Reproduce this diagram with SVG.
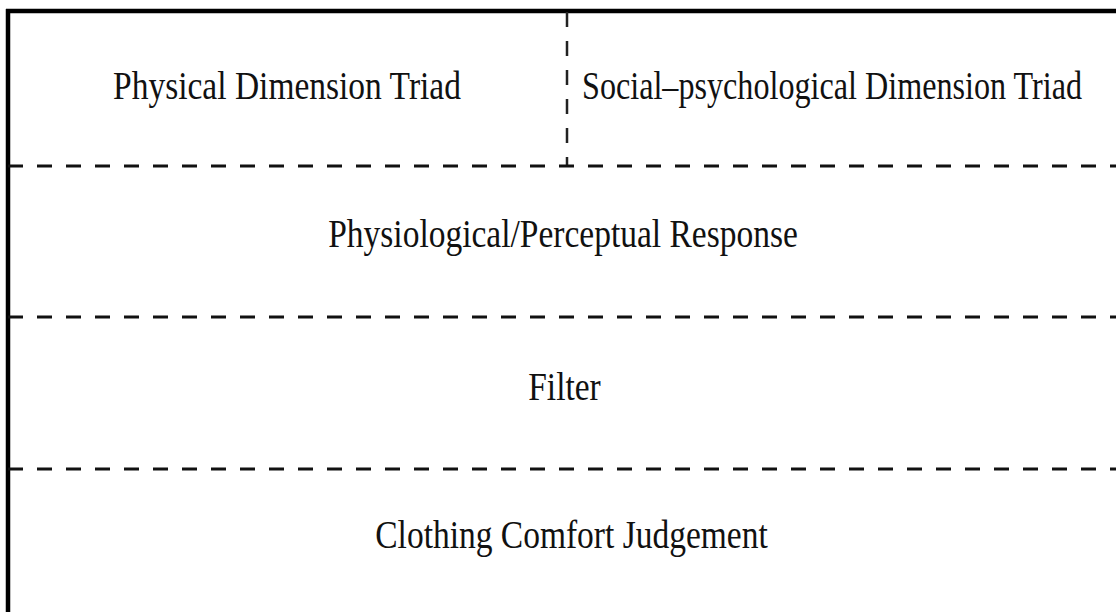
<svg xmlns="http://www.w3.org/2000/svg" width="1116" height="612" viewBox="0 0 1116 612">
  <style>
    .frame { stroke: #000; stroke-width: 4.5; fill: none; }
    .divider { stroke: #111; stroke-width: 3; stroke-dasharray: 15 14; fill: none; }
    .vdivider { stroke: #222; stroke-width: 2.5; stroke-dasharray: 15 14; fill: none; }
    .label { font-family: "Liberation Serif", "Times New Roman", serif; font-size: 33.5px; fill: #111; text-anchor: middle; }
  </style>
  <rect width="1116" height="612" fill="#fff"/>

  <!-- outer frame: top and left edges -->
  <g id="frame">
    <line class="frame" x1="6" y1="11" x2="1116" y2="11"/>
    <line class="frame" x1="8" y1="9" x2="8" y2="612"/>
  </g>

  <!-- dashed separators between layers -->
  <g id="connectors">
    <line class="vdivider" x1="567" y1="12" x2="567" y2="166"/>
    <line class="divider" x1="8" y1="166" x2="1116" y2="166"/>
    <line class="divider" x1="8" y1="317" x2="1116" y2="317"/>
    <line class="divider" x1="8" y1="469" x2="1116" y2="469"/>
  </g>

  <g id="physical-triad">
    <text class="label" transform="translate(287 99) scale(1 1.17)">Physical Dimension Triad</text>
  </g>
  <g id="social-triad">
    <text class="label" transform="translate(832 99) scale(1 1.17)" textLength="500" lengthAdjust="spacingAndGlyphs">Social–psychological Dimension Triad</text>
  </g>
  <g id="response">
    <text class="label" transform="translate(563 247) scale(1 1.17)">Physiological/Perceptual Response</text>
  </g>
  <g id="filter">
    <text class="label" transform="translate(564.5 400) scale(1 1.17)">Filter</text>
  </g>
  <g id="judgement">
    <text class="label" transform="translate(571.5 548) scale(1 1.17)">Clothing Comfort Judgement</text>
  </g>
</svg>
